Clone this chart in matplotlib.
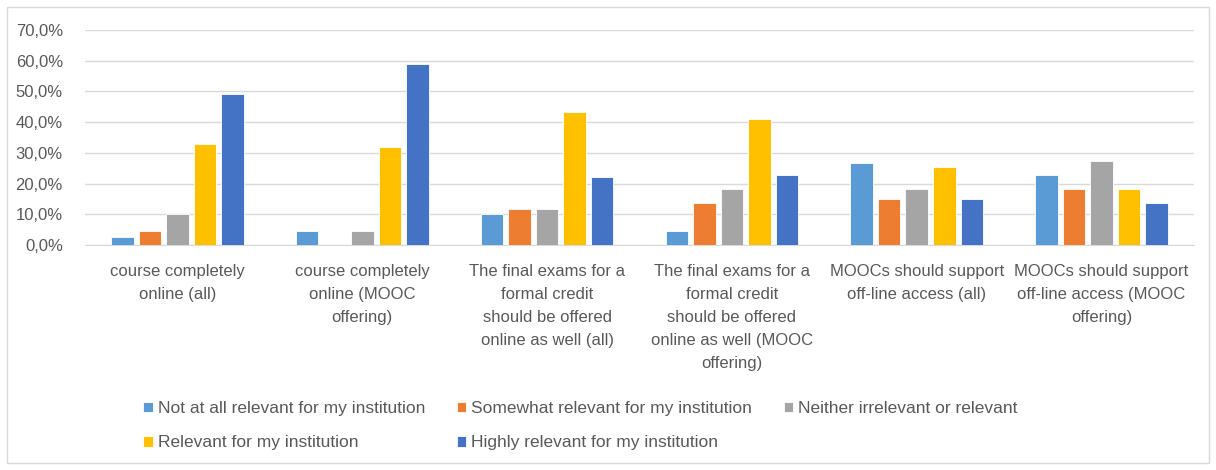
import matplotlib.pyplot as plt
import numpy as np
from matplotlib.patches import Rectangle
from matplotlib.ticker import FuncFormatter

# Données
categories = ["course completely\nonline (all)",
              "course completely\nonline (MOOC\noffering)",
              "The final exams for a\nformal credit\nshould be offered\nonline as well (all)",
              "The final exams for a\nformal credit\nshould be offered\nonline as well (MOOC\noffering)",
              "MOOCs should support\noff-line access (all)",
              "MOOCs should support\noff-line access (MOOC\noffering)"]
series = ["Not at all relevant for my institution",
          "Somewhat relevant for my institution",
          "Neither irrelevant or relevant",
          "Relevant for my institution",
          "Highly relevant for my institution"]
not_at_all = [0.027, 0.045, 0.102, 0.045, 0.266, 0.227]
somewhat = [0.045, 0.0, 0.118, 0.136, 0.149, 0.182]
neither = [0.102, 0.045, 0.118, 0.182, 0.182, 0.273]
relevant = [0.328, 0.318, 0.432, 0.409, 0.255, 0.182]
highly = [0.491, 0.591, 0.222, 0.227, 0.149, 0.136]
values = [not_at_all, somewhat, neither, relevant, highly]
colors = ['#5B9BD5', '#ED7D31', '#A5A5A5', '#FFC000', '#4472C4']

plt.rcParams['font.family'] = ['Liberation Sans', 'DejaVu Sans']
txt = '#595959'

fig = plt.figure(figsize=(12.16, 4.7), dpi=100)
ax = fig.add_axes([0.0699, 0.4787, 0.912, 0.4574])

x = np.arange(len(categories))
slot = 0.149
width = 0.122
bars = []
for i, (vals, col, lab) in enumerate(zip(values, colors, series)):
    b = ax.bar(x + (i - 2) * slot, vals, width, color=col, label=lab,
               edgecolor='white', linewidth=0.6, zorder=3)
    bars.append(b)

ax.set_xlim(-0.5, len(categories) - 0.5)
ax.set_ylim(0, 0.7)
ax.set_yticks(np.arange(0, 0.71, 0.1))
ax.yaxis.set_major_formatter(FuncFormatter(lambda v, p: f"{v*100:.1f}%".replace('.', ',')))
ax.grid(axis='y', color='#D9D9D9', linewidth=1, zorder=0)
ax.set_xticks(x)
ax.set_xticklabels(categories, fontsize=12, color=txt, linespacing=1.65, va='top')
ax.tick_params(axis='x', length=0, pad=14)
ax.tick_params(axis='y', length=0, pad=16, labelsize=12, labelcolor=txt)
for s in ['top', 'right', 'left']:
    ax.spines[s].set_visible(False)
ax.spines['bottom'].set_color('#D9D9D9')

# Légende sous le graphique (ordre par lignes)
order = [0, 3, 1, 4, 2]
fig.legend([bars[k] for k in order], [series[k] for k in order],
           loc='upper left', bbox_to_anchor=(0.105, 0.18), ncol=3,
           frameon=False, fontsize=12.5, labelcolor=txt,
           handlelength=0.55, handleheight=0.55, handletextpad=0.3,
           columnspacing=1.8, labelspacing=1.12)

# Cadre extérieur
fig.patches.append(Rectangle((0.006, 0.015), 0.988, 0.97, transform=fig.transFigure,
                             fill=False, edgecolor='#D9D9D9', linewidth=1))

fig.savefig('out.png', dpi=100)
